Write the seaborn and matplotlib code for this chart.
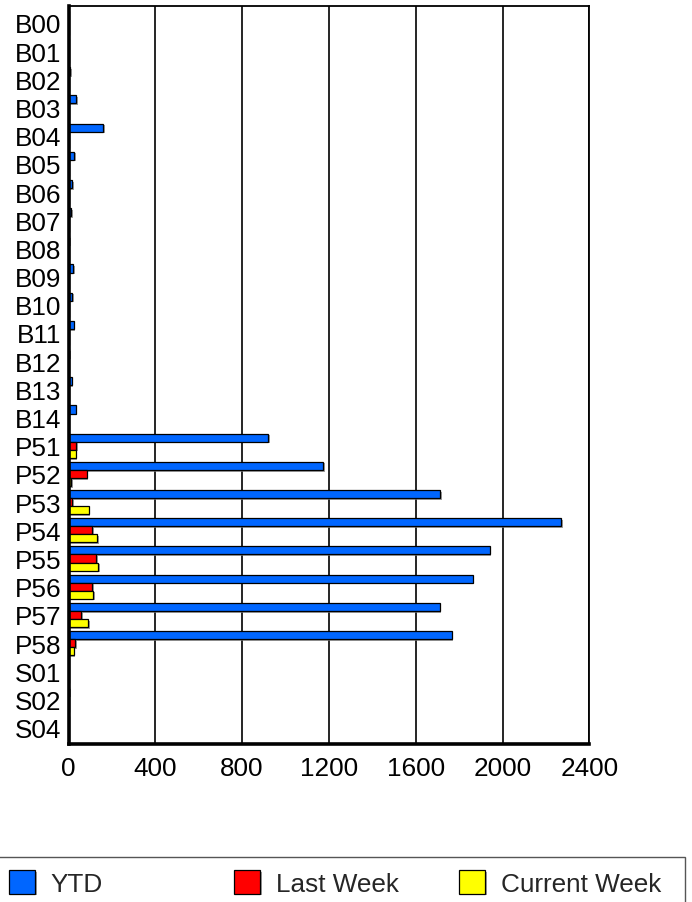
import numpy as np
import pandas as pd
import matplotlib
matplotlib.use('Agg')
import matplotlib.pyplot as plt
import matplotlib.patheffects as pe
from matplotlib.patches import Rectangle
import seaborn as sns

# category codes, top to bottom
codes = ['B00', 'B01', 'B02', 'B03', 'B04', 'B05', 'B06', 'B07', 'B08', 'B09',
         'B10', 'B11', 'B12', 'B13', 'B14',
         'P51', 'P52', 'P53', 'P54', 'P55', 'P56', 'P57', 'P58',
         'S01', 'S02', 'S04']

ytd = [0, 0, 8, 36, 159, 27, 18, 13, 4, 22,
       16, 24, 4, 15, 33,
       921, 1173, 1712, 2269, 1941, 1863, 1710, 1766,
       0, 2, 0]
last_week = [0] * 15 + [36, 84, 16, 110, 128, 110, 59, 31] + [0, 0, 0]
current_week = [0] * 15 + [33, 12, 93, 131, 137, 113, 90, 24] + [0, 0, 0]

series = ['YTD', 'Last Week', 'Current Week']
colors = ['#0066ff', '#ff0000', '#ffff00']
xticks = [0, 400, 800, 1200, 1600, 2000, 2400]

df = pd.DataFrame({
    'code': codes * 3,
    'value': ytd + last_week + current_week,
    'series': np.repeat(series, len(codes)),
})

sns.set_style('white')
plt.rcParams['font.family'] = ['Liberation Sans', 'DejaVu Sans']

fig = plt.figure(figsize=(6.92, 9.03), dpi=100)
ax = fig.add_axes([68.5 / 692, 1 - 745 / 903, (589.3 - 68.5) / 692, 738 / 903])

sns.barplot(data=df, x='value', y='code', hue='series', palette=colors,
            orient='h', width=0.86, edgecolor='black', linewidth=0.9,
            saturation=1, errorbar=None, ax=ax)

# little drop shadow like the original
for p in ax.patches:
    p.set_path_effects([pe.SimplePatchShadow(offset=(1.2, -1.2), shadow_rgbFace='#777777', alpha=0.7),
                        pe.Normal()])

ax.set_xlim(0, 2400)
ax.set_ylim(25.58, -0.6)
ax.set_xticks(xticks)
ax.set_xticklabels([str(t) for t in xticks])
ax.xaxis.grid(True, color='black', linewidth=1.2)
ax.yaxis.grid(False)
ax.set_axisbelow(True)
ax.set_xlabel('')
ax.set_ylabel('')
ax.tick_params(axis='both', length=0, labelsize=18.8, colors='black')
ax.tick_params(axis='y', pad=5)
ax.tick_params(axis='x', pad=9)

for side in ['left', 'bottom']:
    ax.spines[side].set_linewidth(2.6)
    ax.spines[side].set_color('black')
for side in ['top', 'right']:
    ax.spines[side].set_linewidth(1.3)
    ax.spines[side].set_color('black')

# legend: three fixed slots inside one framed box
handles, labels = ax.get_legend_handles_labels()
ax.get_legend().remove()
for h, l, x in zip(handles, labels, [9, 234, 459]):
    fig.legend([h], [l], loc='center left', bbox_to_anchor=(x / 692, 1 - 884 / 903),
               frameon=False, fontsize=18.8, handlelength=1.0, handleheight=1.0,
               handletextpad=0.6, borderpad=0, borderaxespad=0)

fig.add_artist(Rectangle((-0.01, -0.05), 0.01 + 685 / 692, 0.05 + 45 / 903,
                         transform=fig.transFigure, facecolor='none',
                         edgecolor='#555555', linewidth=1))

fig.savefig('out.png', dpi=100)
